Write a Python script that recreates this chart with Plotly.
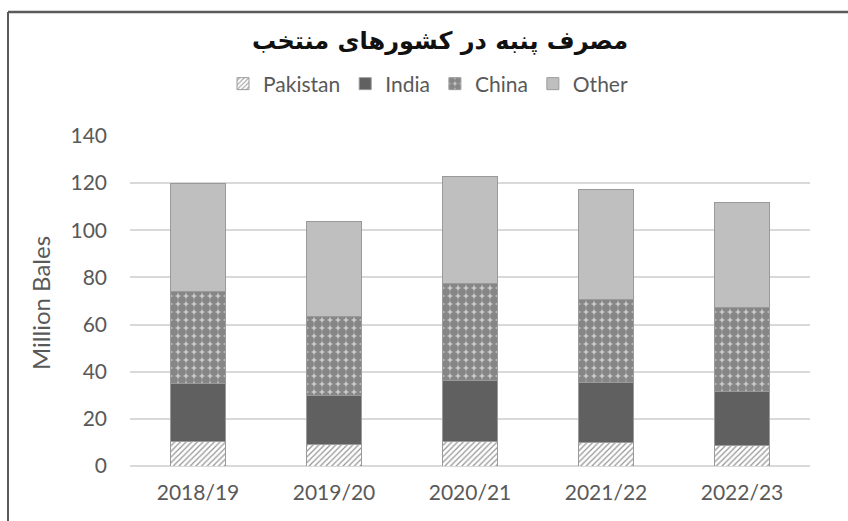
import plotly.graph_objects as go

# Cotton consumption by country, million bales
seasons = ["2018/19", "2019/20", "2020/21", "2021/22", "2022/23"]
pakistan = [10.2, 9.1, 10.2, 10.1, 8.8]
india = [24.7, 20.7, 26.0, 25.3, 22.6]
china = [39.3, 33.6, 41.3, 35.3, 35.9]
other = [45.8, 40.4, 45.5, 46.6, 44.5]

y_ticks = [0, 20, 40, 60, 80, 100, 120, 140]

W, H = 848, 521
L, R, T, B = 130, 38, 136, 55
PW, PH = W - L - R, H - T - B


def px_x(x):
    return (x - L) / PW


def px_y(y):
    return (H - B - y) / PH


LATIN = "Lato, 'Open Sans', sans-serif"
GREY_TXT = "#595959"
EDGE = dict(color="#9a9a9a", width=1)

fig = go.Figure()
fig.add_bar(
    name="Pakistan", x=seasons, y=pakistan,
    marker=dict(color="white", line=EDGE,
                pattern=dict(shape="/", fgcolor="#2a2a2a", bgcolor="white",
                             size=4, solidity=0.3)),
)
fig.add_bar(
    name="India", x=seasons, y=india,
    marker=dict(color="#606060", line=EDGE),
)
fig.add_bar(
    name="China", x=seasons, y=china,
    marker=dict(color="#bdbdbd", line=EDGE,
                pattern=dict(shape=".", fgcolor="#424242", bgcolor="#cacaca",
                             size=8, solidity=0.75)),
)
fig.add_bar(
    name="Other", x=seasons, y=other,
    marker=dict(color="#bfbfbf", line=EDGE),
)

fig.update_layout(
    width=W, height=H,
    barmode="stack", bargap=0.595,
    paper_bgcolor="white", plot_bgcolor="white",
    margin=dict(l=L, r=R, t=T, b=B),
    font=dict(family=LATIN, color=GREY_TXT, size=19),
    showlegend=True,
    legend=dict(orientation="h", traceorder="normal",
                x=px_x(428), xanchor="center", y=px_y(84), yanchor="middle",
                font=dict(family=LATIN, size=21, color=GREY_TXT),
                itemwidth=30, bgcolor="rgba(0,0,0,0)"),
    xaxis=dict(tickfont=dict(family=LATIN, size=21, color=GREY_TXT),
               showgrid=False, showline=False, ticks="", ticklabelstandoff=12),
    yaxis=dict(range=[0, 140], tickvals=y_ticks,
               tickfont=dict(family=LATIN, size=21, color=GREY_TXT),
               showgrid=True, gridcolor="#d9d9d9", gridwidth=1.5,
               zeroline=True, zerolinecolor="#d9d9d9", zerolinewidth=1.5,
               showline=False, ticks="", ticklabelstandoff=22),
    annotations=[
        dict(text="<b>مصرف پنبه در کشورهای منتخب</b>",
             xref="paper", yref="paper", x=px_x(440), y=px_y(41),
             xanchor="center", yanchor="middle", showarrow=False,
             font=dict(family="DejaVu Sans", size=24, color="#111111")),
        dict(text="Million Bales", textangle=-90,
             xref="paper", yref="paper", x=px_x(40), y=px_y(303),
             xanchor="center", yanchor="middle", showarrow=False,
             font=dict(family=LATIN, size=24, color=GREY_TXT)),
    ],
    shapes=[
        dict(type="line", xref="paper", yref="paper",
             x0=px_x(8), x1=px_x(W + 2), y0=px_y(12), y1=px_y(12),
             line=dict(color="#5a5a5a", width=2.5)),
        dict(type="line", xref="paper", yref="paper",
             x0=px_x(8), x1=px_x(8), y0=px_y(12), y1=px_y(H + 2),
             line=dict(color="#5a5a5a", width=2)),
    ],
)

fig.write_html("out.html")
